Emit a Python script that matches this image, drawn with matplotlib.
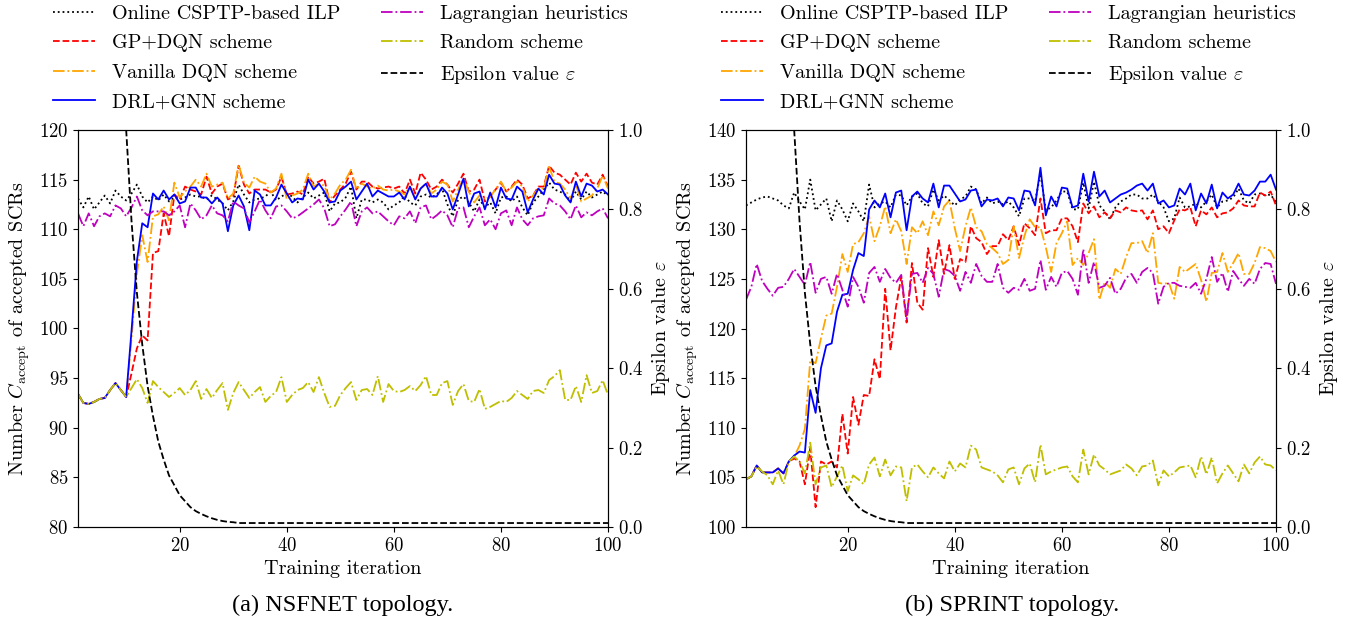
import matplotlib
matplotlib.use("Agg")
import matplotlib.pyplot as plt
from matplotlib.ticker import MultipleLocator

plt.rcParams['font.family'] = 'serif'
plt.rcParams['font.serif'] = ['cmr10', 'DejaVu Serif']
plt.rcParams['mathtext.fontset'] = 'cm'
plt.rcParams['axes.formatter.use_mathtext'] = True
plt.rcParams['axes.unicode_minus'] = False

iters = list(range(1, 101))

# ---------------- NSFNET ----------------
ns_ilp = [113.1, 112.2, 113.3, 112.0, 112.7, 113.4, 112.6, 113.9, 113.3, 112.9,
          113.6, 114.5, 113.3, 112.7, 113.3, 112.9, 113.5, 112.8, 113.2, 113.0,
          113.2, 113.5, 113.3, 113.3, 113.0, 113.4, 113.0, 112.6, 111.9, 112.8,
          114.5, 113.5, 112.7, 113.0, 113.1, 113.3, 113.8, 112.9, 113.3, 113.6,
          113.3, 112.7, 113.2, 113.7, 113.1, 113.4, 113.7, 111.8, 112.6, 112.7,
          113.2, 114.3, 111.1, 113.0, 113.0, 112.7, 113.0, 112.7, 112.0, 112.4,
          112.7, 113.4, 112.7, 112.4, 113.3, 113.5, 113.2, 113.5, 114.1, 112.5,
          111.3, 113.0, 113.3, 112.7, 111.8, 113.0, 112.2, 112.7, 111.6, 113.2,
          113.3, 112.8, 113.3, 112.2, 111.4, 112.7, 113.3, 114.0, 114.7, 114.0,
          113.8, 113.5, 112.8, 113.8, 113.0, 113.8, 113.2, 113.5, 113.8, 113.4]
ns_gp = [93.4, 92.5, 92.4, 92.6, 92.9, 93.0, 93.8, 94.5, 93.8, 93.1,
         95.5, 98.0, 99.3, 98.8, 107.6, 107.8, 111.6, 109.3, 113.5, 113.0,
         114.3, 114.0, 113.8, 113.5, 115.3, 113.6, 114.3, 114.6, 113.0, 113.3,
         116.4, 114.5, 113.6, 114.0, 114.0, 114.0, 113.7, 114.0, 115.3, 113.5,
         113.6, 113.8, 113.5, 115.3, 114.6, 114.8, 115.1, 112.7, 113.4, 114.0,
         114.6, 115.8, 114.0, 114.8, 114.8, 114.3, 114.1, 114.2, 114.3, 114.1,
         114.3, 113.6, 115.0, 113.6, 115.7, 115.0, 114.0, 114.3, 115.0, 114.5,
         113.7, 114.6, 115.6, 113.8, 114.0, 115.0, 112.8, 113.3, 114.0, 114.7,
         113.8, 114.3, 115.0, 114.5, 113.1, 113.4, 114.3, 114.3, 116.4, 115.7,
         115.5, 115.0, 114.5, 115.7, 114.8, 115.6, 114.7, 114.5, 115.5, 114.3]
ns_vanilla = [93.4, 92.5, 92.4, 92.6, 92.9, 93.0, 93.8, 94.5, 93.8, 93.1,
              99.0, 105.5, 109.4, 106.7, 111.3, 111.5, 112.3, 110.9, 114.7, 113.2,
              113.8, 114.3, 115.0, 114.3, 115.6, 114.3, 114.5, 114.7, 113.1, 113.6,
              116.5, 114.7, 114.2, 115.3, 114.8, 114.6, 113.7, 114.1, 115.6, 113.0,
              113.4, 113.6, 114.0, 115.6, 114.3, 114.6, 114.4, 113.0, 113.6, 114.5,
              115.0, 116.0, 114.0, 114.6, 114.3, 114.1, 114.4, 114.0, 113.9, 114.0,
              113.8, 113.5, 114.3, 113.1, 114.1, 114.6, 113.6, 114.0, 114.8, 114.5,
              112.8, 114.0, 115.1, 113.8, 112.7, 113.4, 113.0, 113.3, 114.0, 114.8,
              113.8, 114.2, 114.8, 114.3, 112.8, 113.4, 114.1, 114.1, 116.3, 114.8,
              114.6, 114.0, 113.1, 114.5, 112.8, 113.1, 113.4, 114.1, 115.4, 114.1]
ns_gnn = [93.4, 92.5, 92.4, 92.6, 92.9, 93.0, 93.8, 94.5, 93.8, 93.1,
          99.8, 106.8, 110.6, 110.2, 113.6, 113.0, 113.9, 113.0, 113.5, 112.6,
          112.8, 114.2, 114.2, 113.2, 113.2, 112.6, 113.2, 112.6, 109.8, 112.4,
          113.4, 112.3, 109.9, 113.9, 113.5, 112.4, 112.4, 113.2, 114.5, 113.6,
          112.7, 113.1, 113.0, 115.0, 114.0, 114.6, 113.8, 112.7, 112.8, 113.9,
          114.3, 114.8, 113.0, 113.8, 114.6, 113.3, 113.9, 113.6, 113.3, 113.3,
          113.7, 113.0, 114.3, 113.0, 114.1, 114.6, 113.3, 113.3, 114.2, 113.6,
          112.0, 113.5, 115.1, 112.3, 113.6, 113.8, 112.0, 113.7, 112.2, 114.2,
          113.1, 113.0, 114.3, 113.8, 111.7, 113.0, 114.1, 113.5, 115.5, 114.6,
          114.5, 113.4, 112.7, 114.8, 113.3, 114.6, 114.4, 113.8, 114.0, 113.5]
ns_lagr = [111.6, 110.3, 111.6, 110.3, 111.3, 111.6, 111.3, 112.4, 112.1, 111.3,
           112.2, 113.3, 111.9, 111.4, 111.8, 111.8, 111.8, 111.4, 111.8, 112.4,
           110.2, 112.6, 111.9, 111.0, 111.4, 112.4, 111.6, 111.4, 110.8, 112.8,
           112.4, 112.1, 110.7, 111.8, 113.0, 111.9, 111.1, 112.3, 112.4, 111.8,
           111.1, 111.3, 111.7, 112.1, 112.5, 113.0, 112.1, 110.3, 110.5, 111.3,
           112.0, 112.8, 110.3, 111.8, 112.2, 111.6, 111.8, 111.3, 110.8, 110.4,
           111.3, 111.1, 111.8, 110.6, 112.2, 112.4, 111.0, 111.4, 111.9, 111.4,
           110.2, 112.1, 112.2, 110.2, 111.3, 112.2, 110.4, 111.0, 110.0, 111.6,
           111.9, 110.4, 112.2, 111.0, 110.4, 111.1, 111.3, 111.4, 113.1, 112.6,
           112.4, 111.8, 111.0, 112.4, 111.2, 111.7, 111.4, 111.8, 112.1, 111.1]
ns_random = [93.4, 92.5, 92.4, 92.6, 92.9, 93.0, 93.8, 94.5, 93.8, 93.1,
             94.0, 94.9, 94.0, 92.5, 94.7, 94.1, 93.6, 93.1, 93.5, 94.0,
             93.3, 93.8, 94.7, 92.9, 93.9, 93.0, 93.8, 94.5, 91.8, 93.5,
             94.6, 93.8, 93.0, 93.6, 94.1, 92.6, 93.2, 93.6, 95.1, 92.6,
             93.3, 93.8, 94.0, 94.6, 93.6, 95.1, 93.5, 92.1, 92.2, 93.3,
             94.0, 94.6, 92.8, 93.8, 93.9, 93.3, 95.2, 92.6, 94.4, 93.7,
             93.6, 93.8, 94.2, 93.7, 94.3, 95.2, 93.3, 93.3, 94.5, 94.7,
             92.3, 93.7, 94.4, 92.7, 92.6, 93.9, 91.9, 92.1, 92.4, 92.7,
             92.6, 93.0, 93.7, 93.3, 92.9, 93.7, 93.8, 93.5, 94.8, 95.2,
             95.8, 92.8, 92.8, 94.2, 92.6, 95.3, 93.5, 93.7, 94.8, 93.3]

# ---------------- SPRINT ----------------
sp_ilp = [132.4, 132.7, 133.0, 133.2, 133.3, 133.1, 132.9, 132.4, 132.1, 133.7,
          132.8, 132.0, 135.0, 131.9, 132.5, 133.1, 130.8, 132.9, 132.0, 130.8,
          132.6, 131.8, 130.8, 134.5, 132.2, 132.6, 132.8, 132.2, 133.5, 133.4,
          132.4, 133.3, 133.6, 132.6, 132.3, 134.0, 132.9, 133.4, 132.9, 132.4,
          133.0, 133.3, 134.3, 134.0, 132.6, 133.2, 132.6, 132.8, 132.5, 132.8,
          132.2, 131.3, 133.1, 133.1, 132.8, 135.6, 131.9, 132.2, 132.9, 133.8,
          133.8, 132.0, 132.0, 134.7, 132.1, 134.8, 132.4, 131.8, 131.0, 132.2,
          132.8, 133.1, 133.5, 133.5, 133.1, 133.1, 133.5, 132.8, 132.2, 130.8,
          131.1, 133.2, 132.2, 132.3, 132.6, 132.2, 132.8, 133.5, 132.2, 132.8,
          132.9, 133.2, 134.1, 132.9, 132.6, 133.5, 133.6, 133.4, 133.5, 132.7]
sp_gp = [104.8, 105.1, 106.2, 105.5, 105.5, 105.5, 105.9, 105.4, 106.6, 106.9,
         106.6, 104.3, 107.9, 102.0, 106.6, 106.3, 106.6, 106.0, 111.4, 107.4,
         113.1, 110.3, 113.3, 113.2, 116.9, 114.9, 124.0, 117.8, 122.1, 125.2,
         120.6, 126.6, 122.6, 121.9, 128.1, 125.2, 128.9, 125.5, 128.4, 125.0,
         127.0, 126.7, 130.3, 129.1, 128.7, 127.5, 128.3, 128.3, 129.5, 128.9,
         130.3, 128.4, 130.6, 130.1, 129.4, 133.1, 129.6, 129.9, 129.9, 131.1,
         131.1, 130.3, 128.7, 132.6, 131.6, 132.3, 131.2, 131.7, 131.1, 131.9,
         131.7, 132.2, 131.9, 131.8, 131.9, 131.0, 131.9, 130.0, 130.3, 129.6,
         130.9, 132.0, 131.9, 132.2, 130.3, 131.9, 131.5, 132.2, 131.2, 131.6,
         131.7, 132.1, 132.9, 132.4, 132.3, 132.3, 133.7, 133.4, 133.8, 132.4]
sp_vanilla = [104.8, 105.1, 106.2, 105.5, 105.5, 105.5, 105.9, 105.4, 106.6, 107.1,
              108.2, 109.9, 116.8, 116.5, 119.0, 121.3, 121.5, 124.2, 127.5, 125.7,
              128.5, 128.7, 129.6, 131.3, 128.8, 130.3, 132.3, 129.6, 131.0, 129.8,
              126.5, 130.2, 129.6, 130.8, 129.4, 131.8, 130.4, 132.3, 132.9, 130.1,
              127.8, 130.3, 132.2, 130.2, 129.8, 128.5, 128.1, 127.6, 126.5, 126.9,
              130.3, 127.1, 129.3, 131.0, 130.2, 130.2, 128.2, 125.7, 128.6, 129.6,
              130.8, 126.4, 127.1, 126.4, 127.6, 129.0, 122.9, 124.7, 124.1, 126.0,
              125.5, 127.2, 128.6, 128.6, 128.8, 127.6, 129.6, 124.6, 124.5, 124.6,
              123.0, 126.2, 125.7, 126.1, 126.5, 124.9, 122.7, 125.6, 125.7, 127.6,
              125.7, 126.6, 127.6, 125.5, 125.5, 126.6, 128.2, 128.1, 127.8, 126.7]
sp_gnn = [104.8, 105.1, 106.2, 105.5, 105.5, 105.5, 105.9, 105.4, 106.6, 107.2,
          107.6, 107.5, 113.8, 111.5, 116.0, 118.3, 118.5, 121.7, 123.4, 123.5,
          125.9, 127.6, 127.3, 132.0, 132.9, 132.2, 133.6, 131.2, 133.7, 133.9,
          129.9, 133.3, 133.8, 133.1, 132.7, 134.6, 132.2, 134.4, 134.4, 133.6,
          132.8, 133.0, 133.9, 134.0, 132.3, 133.0, 132.9, 133.1, 132.3, 133.2,
          133.1, 131.9, 133.9, 133.8, 132.4, 136.2, 131.4, 133.3, 132.3, 134.2,
          134.1, 132.2, 132.4, 135.6, 132.8, 135.8, 133.3, 133.9, 132.7, 133.1,
          133.5, 133.7, 134.0, 134.4, 134.6, 133.9, 134.6, 132.6, 132.9, 132.2,
          132.4, 134.1, 133.5, 134.6, 131.9, 133.6, 132.6, 134.5, 132.1, 133.7,
          133.1, 133.5, 134.6, 133.5, 133.4, 133.9, 134.8, 134.8, 135.5, 134.0]
sp_lagr = [122.9, 124.2, 126.5, 124.8, 124.0, 123.3, 124.1, 124.2, 125.0, 126.0,
           125.2, 124.4, 126.7, 123.6, 125.0, 125.2, 123.5, 125.5, 123.9, 122.2,
           125.2, 124.2, 122.6, 125.6, 126.2, 124.7, 126.0, 125.1, 124.6, 125.4,
           121.0, 125.5, 125.6, 124.6, 126.1, 125.5, 123.2, 126.0, 125.8, 125.3,
           123.8, 125.7, 124.6, 126.5, 125.3, 124.7, 124.7, 126.5, 124.1, 123.6,
           124.1, 123.9, 125.0, 123.8, 124.0, 126.9, 123.9, 125.2, 124.2, 125.6,
           125.8, 125.0, 123.4, 128.0, 124.6, 126.7, 124.1, 124.3, 125.1, 123.5,
           124.0, 125.1, 125.5, 124.6, 125.7, 126.1, 125.6, 122.5, 124.2, 124.6,
           124.6, 124.3, 124.2, 124.1, 124.6, 123.5, 125.0, 127.2, 124.7, 125.6,
           123.7, 125.8, 125.0, 124.3, 125.0, 124.5, 126.0, 126.6, 126.5, 124.5]
sp_random = [104.8, 105.1, 106.1, 105.6, 105.2, 104.3, 105.7, 104.3, 106.6, 107.1,
             106.6, 105.4, 108.5, 104.3, 106.0, 106.2, 104.0, 105.1, 106.2, 103.6,
             105.2, 104.8, 104.3, 106.3, 107.0, 105.1, 106.8, 105.2, 106.1, 106.0,
             102.6, 106.0, 106.3, 105.6, 105.0, 106.0, 105.4, 104.9, 106.6, 105.6,
             106.4, 106.0, 108.2, 107.8, 106.0, 105.8, 105.6, 105.2, 104.5, 105.8,
             106.0, 104.3, 105.9, 106.4, 104.5, 108.3, 105.3, 105.6, 105.8, 106.0,
             106.1, 105.1, 104.5, 107.8, 105.3, 107.3, 106.2, 105.8, 105.3, 105.5,
             105.7, 106.3, 105.9, 105.2, 106.1, 106.2, 106.7, 104.2, 105.7, 105.1,
             105.5, 106.0, 106.1, 106.2, 105.0, 107.1, 105.3, 107.0, 104.4, 105.4,
             106.2, 105.4, 104.6, 106.3, 105.4, 106.5, 107.1, 106.3, 106.2, 105.7]

epsilon = [1.0, 1.0, 1.0, 1.0, 1.0, 1.0, 1.0, 1.0, 1.0, 1.0,
           0.77, 0.59, 0.46, 0.355, 0.28, 0.215, 0.17, 0.13, 0.105, 0.08,
           0.065, 0.05, 0.04, 0.033, 0.027, 0.022, 0.018, 0.015, 0.013, 0.012,
           0.01, 0.01, 0.01, 0.01, 0.01, 0.01, 0.01, 0.01, 0.01, 0.01,
           0.01, 0.01, 0.01, 0.01, 0.01, 0.01, 0.01, 0.01, 0.01, 0.01,
           0.01, 0.01, 0.01, 0.01, 0.01, 0.01, 0.01, 0.01, 0.01, 0.01,
           0.01, 0.01, 0.01, 0.01, 0.01, 0.01, 0.01, 0.01, 0.01, 0.01,
           0.01, 0.01, 0.01, 0.01, 0.01, 0.01, 0.01, 0.01, 0.01, 0.01,
           0.01, 0.01, 0.01, 0.01, 0.01, 0.01, 0.01, 0.01, 0.01, 0.01,
           0.01, 0.01, 0.01, 0.01, 0.01, 0.01, 0.01, 0.01, 0.01, 0.01]

labels = ['Online CSPTP-based ILP', 'GP+DQN scheme', 'Vanilla DQN scheme',
          'DRL+GNN scheme', 'Lagrangian heuristics', 'Random scheme',
          r'Epsilon value $\varepsilon$']
subtitles = ['(a) NSFNET topology.', '(b) SPRINT topology.']
ylims = [(80, 120), (100, 140)]

TFS = 13.5   # tick labels
LFS = 14.5   # axis labels / legend
W, H = 1353, 624
fig = plt.figure(figsize=(W / 100, H / 100), dpi=100)
axes_pos = [[78 / W, 1 - 527 / H, 530 / W, 397 / H],
            [746 / W, 1 - 527 / H, 530 / W, 397 / H]]
datasets = [(ns_ilp, ns_gp, ns_vanilla, ns_gnn, ns_lagr, ns_random),
            (sp_ilp, sp_gp, sp_vanilla, sp_gnn, sp_lagr, sp_random)]
sub_x = [343 / W, 1012 / W]
leg_x = [53 / W, 721 / W]

for k in range(2):
    ilp, gp, van, gnn, lag, rnd = datasets[k]
    ax = fig.add_axes(axes_pos[k])
    lw = 1.3
    h1, = ax.plot(iters, ilp, color='k', ls=':', lw=lw)
    h2, = ax.plot(iters, gp, color='r', ls='--', lw=lw)
    h3, = ax.plot(iters, van, color='orange', ls='-.', lw=lw)
    h4, = ax.plot(iters, gnn, color='b', ls='-', lw=lw)
    h5, = ax.plot(iters, lag, color='m', ls='-.', lw=lw)
    h6, = ax.plot(iters, rnd, color='y', ls='-.', lw=lw)
    ax.set_xlim(1, 100)
    ax.set_ylim(*ylims[k])
    ax.xaxis.set_major_locator(MultipleLocator(20))
    ax.yaxis.set_major_locator(MultipleLocator(5))
    ax.tick_params(labelsize=TFS)
    ax.set_xlabel('Training iteration', fontsize=LFS, labelpad=4)
    ax.set_ylabel(r'Number $C_{\mathrm{accept}}$ of accepted SCRs', fontsize=LFS, labelpad=5)
    ax2 = ax.twinx()
    h7, = ax2.plot(iters, epsilon, color='k', ls='--', lw=lw)
    ax2.set_ylim(0, 1.0)
    ax2.yaxis.set_major_locator(MultipleLocator(0.2))
    ax2.tick_params(labelsize=TFS)
    ax2.set_ylabel(r'Epsilon value $\varepsilon$', fontsize=LFS, labelpad=5)
    fig.legend([h1, h2, h3, h4, h5, h6, h7], labels, loc='upper left',
               bbox_to_anchor=(leg_x[k], 1 - 5 / H), ncol=2, frameon=False,
               fontsize=LFS, handlelength=2.1, handletextpad=0.85,
               columnspacing=2.0, labelspacing=0.56, borderpad=0.0,
               borderaxespad=0.0)
    fig.text(sub_x[k], 1 - 605 / H, subtitles[k], ha='center', va='center',
             fontsize=17.5, family=['Liberation Serif', 'DejaVu Serif'])

fig.savefig('out.png', dpi=100)
